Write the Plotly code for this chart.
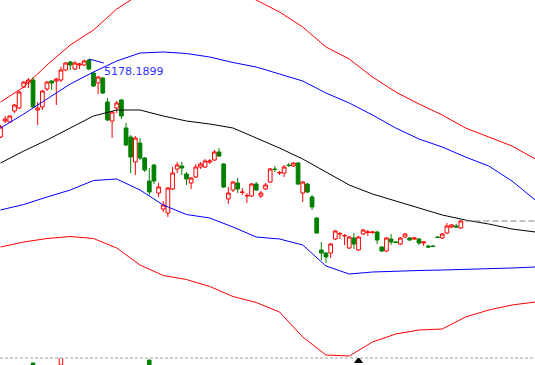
import plotly.graph_objects as go

# ---- candle data (index, OHLC) ----
open_ = [4288.2, 4470.8, 4459.4, 4584.9, 4619.1, 4858.7, 4904.4, 4938.6, 4596.3, 4630.5,
         4835.9, 4927.2, 4927.2, 4938.6, 5052.7, 5144.0, 5064.1, 5109.7, 5109.7, 5166.8,
         5018.5, 4904.4, 4961.4, 4687.6, 4470.8, 4619.1, 4710.4, 4390.9, 4288.2, 4003.0,
         4219.8, 4048.6, 3786.2, 3968.7, 3649.3, 3466.7, 3421.1, 3694.9, 3923.1, 3957.3,
         3866.1, 3763.4, 3831.8, 3945.9, 3945.9, 4003.0, 4025.8, 4117.1, 3980.2, 3580.8,
         3683.5, 3763.4, 3655.0, 3615.0, 3615.0, 3752.0, 3615.0, 3694.9, 3774.8, 3923.1,
         3877.5, 3877.5, 3968.7, 3957.3, 3991.6, 3649.3, 3752.0, 3603.6, 3364.0, 2998.9,
         2964.7, 2964.7, 3124.4, 3181.5, 3158.6, 3021.7, 3135.8, 2998.9, 3181.5, 3198.6,
         3198.6, 3204.3, 3033.1, 2987.5, 3124.4, 3090.2, 3067.4, 3147.2, 3135.8, 3124.4,
         3124.4, 3078.8, 3044.5, 3044.5, 3147.2, 3135.8, 3192.9, 3261.3, 3272.7, 3249.9]
close = [4402.3, 4493.6, 4527.8, 4653.3, 4801.7, 4915.8, 4938.6, 4630.5, 4619.1, 4813.1,
         4915.8, 4904.4, 4950.0, 5052.7, 5132.6, 5109.7, 5132.6, 5121.2, 5155.4, 5064.1,
         4870.1, 4972.8, 4790.3, 4482.2, 4573.5, 4676.2, 4527.8, 4196.9, 4060.0, 4276.8,
         4048.6, 3911.7, 3660.7, 3786.2, 3717.7, 3512.3, 3706.3, 3877.5, 3968.7, 3934.5,
         3809.0, 3820.4, 3945.9, 3980.2, 4014.4, 4014.4, 4117.1, 4071.4, 3717.7, 3649.3,
         3774.8, 3694.9, 3660.7, 3620.7, 3752.0, 3683.5, 3649.3, 3740.5, 3923.1, 3917.4,
         3883.2, 3945.9, 3963.0, 3991.6, 3752.0, 3774.8, 3660.7, 3489.5, 3192.9, 2964.7,
         2919.0, 3067.4, 3215.7, 3187.2, 3164.3, 3147.2, 3067.4, 3147.2, 3227.1, 3204.3,
         3204.3, 3113.0, 2987.5, 3135.8, 3090.2, 3084.5, 3135.8, 3181.5, 3113.0, 3135.8,
         3078.8, 3090.2, 3033.1, 3038.8, 3141.5, 3181.5, 3272.7, 3284.1, 3261.3, 3329.8]
high = [4425.1, 4527.8, 4539.2, 4664.8, 4813.1, 4927.2, 4961.4, 4972.8, 4687.6, 4824.5,
        4927.2, 4938.6, 4961.4, 5086.9, 5144.0, 5155.4, 5155.4, 5132.6, 5172.5, 5178.19,
        5029.9, 4984.2, 4972.8, 4733.2, 4584.9, 4699.0, 4721.8, 4448.0, 4311.0, 4299.6,
        4276.8, 4060.0, 3934.5, 3980.2, 3763.4, 3558.0, 3717.7, 3945.9, 4003.0, 4003.0,
        3888.9, 3831.8, 3980.2, 4003.0, 4037.2, 4037.2, 4139.9, 4162.7, 3991.6, 3717.7,
        3786.2, 3820.4, 3706.3, 3649.3, 3763.4, 3774.8, 3672.1, 3763.4, 3934.5, 3957.3,
        3900.3, 3968.7, 3991.6, 4003.0, 4003.0, 3786.2, 3763.4, 3626.4, 3375.4, 3090.2,
        2976.1, 3078.8, 3227.1, 3204.3, 3181.5, 3158.6, 3192.9, 3158.6, 3238.5, 3227.1,
        3215.7, 3215.7, 3044.5, 3147.2, 3181.5, 3101.6, 3147.2, 3192.9, 3147.2, 3147.2,
        3135.8, 3101.6, 3055.9, 3055.9, 3158.6, 3192.9, 3307.0, 3295.6, 3295.6, 3341.2]
low = [4276.8, 4448.0, 4448.0, 4562.1, 4607.7, 4847.3, 4847.3, 4619.1, 4425.1, 4596.3,
       4813.1, 4824.5, 4653.3, 4915.8, 5041.3, 5052.7, 5052.7, 5064.1, 5098.3, 5052.7,
       4858.7, 4778.9, 4778.9, 4470.8, 4276.8, 4562.1, 4493.6, 4185.5, 3877.5, 3854.6,
       4025.8, 3888.9, 3626.4, 3752.0, 3603.6, 3432.5, 3375.4, 3683.5, 3877.5, 3854.6,
       3740.5, 3694.9, 3820.4, 3923.1, 3934.5, 3980.2, 4014.4, 4060.0, 3706.3, 3523.8,
       3660.7, 3649.3, 3626.4, 3535.2, 3603.6, 3672.1, 3592.2, 3683.5, 3763.4, 3888.9,
       3854.6, 3831.8, 3945.9, 3945.9, 3740.5, 3546.6, 3649.3, 3455.3, 3181.5, 2884.8,
       2850.71, 2907.6, 3113.0, 3124.4, 3055.9, 3010.3, 3010.3, 2987.5, 3170.0, 3158.6,
       3181.5, 3067.4, 2976.1, 2976.1, 3055.9, 3078.8, 3055.9, 3135.8, 3101.6, 3113.0,
       3055.9, 3044.5, 3021.7, 3033.1, 3135.8, 3124.4, 3181.5, 3249.9, 3249.9, 3238.5]
idx = list(range(len(open_)))

# ---- band lines (sampled every 5 bars, extending past last bar) ----
band_idx = list(range(0, 116, 5))
mid_line = [3991.6, 4128.5, 4254.0, 4390.9, 4527.8, 4596.3, 4596.3, 4527.8, 4470.8, 4436.6,
            4390.9, 4276.8, 4162.7, 4037.2, 3888.9, 3740.5, 3637.9, 3558.0, 3478.1, 3398.2,
            3341.2, 3295.6, 3238.5, 3204.3]
upper1 = [4390.9, 4550.7, 4721.8, 4893.0, 5029.9, 5155.4, 5246.7, 5258.1, 5241.0, 5201.0,
          5138.3, 5086.9, 5007.1, 4927.2, 4790.3, 4676.2, 4539.2, 4390.9, 4265.4, 4174.1,
          4060.0, 3957.3, 3786.2, 3569.4]
lower1 = [3455.3, 3518.1, 3603.6, 3683.5, 3791.9, 3809.0, 3683.5, 3512.3, 3404.0, 3364.0,
          3261.3, 3147.2, 3124.4, 3055.9, 2816.3, 2725.1, 2747.9, 2759.3, 2765.0, 2770.7,
          2776.4, 2782.1, 2793.5, 2804.9]
upper2 = [4687.6, 4858.7, 5109.7, 5337.9, 5509.1, 5748.7, 5919.9, 6034.0, 6079.6, 6056.8,
          5965.5, 5851.4, 5714.5, 5543.3, 5315.1, 5178.2, 4972.8, 4801.7, 4664.8, 4539.2,
          4390.9, 4288.2, 4185.5, 4037.2]
lower2 = [3033.1, 3090.2, 3130.1, 3152.9, 3130.1, 3021.7, 2827.7, 2707.9, 2662.3, 2582.5,
          2468.3, 2399.9, 2291.5, 2006.2, 1800.8, 1789.4, 1949.2, 2040.5, 2086.1, 2097.5,
          2234.4, 2314.3, 2371.3, 2405.6]

# ---- volume tops that peek into the lower panel ----
vol_idx = [7, 13, 32]
vol_val = [2.0, 7.5, 5.0]

peak_idx = 19
peak_label = "5178.1899"
marker_idx = 77

RED = "#ff0000"
GREEN = "#008000"
BLUE = "#0000ff"

fig = go.Figure()

for ys, col in [(upper2, RED), (lower2, RED), (upper1, BLUE), (lower1, BLUE), (mid_line, "#000000")]:
    fig.add_trace(go.Scatter(x=band_idx, y=ys, mode="lines",
                             line=dict(color=col, width=1), hoverinfo="skip"))

fig.add_trace(go.Candlestick(
    x=idx, open=open_, high=high, low=low, close=close,
    increasing=dict(line=dict(color=RED, width=1), fillcolor="#ffffff"),
    decreasing=dict(line=dict(color=GREEN, width=1), fillcolor=GREEN),
    whiskerwidth=0,
))

vcols = [RED if close[i] > open_[i] else GREEN for i in vol_idx]
vfill = ["#ffffff" if close[i] > open_[i] else GREEN for i in vol_idx]
fig.add_trace(go.Bar(x=vol_idx, y=vol_val, yaxis="y2", width=0.75,
                     marker=dict(color=vfill, line=dict(color=vcols, width=1))))
fig.add_trace(go.Scatter(x=[marker_idx], y=[4], yaxis="y2", mode="markers",
                         marker=dict(symbol="triangle-up", size=8, color="#000000")))

x_lo, x_hi = -0.1075, 114.95
fig.update_layout(
    width=535, height=365, margin=dict(l=0, r=0, t=0, b=0),
    paper_bgcolor="#ffffff", plot_bgcolor="#ffffff", showlegend=False,
    boxgap=0.2, boxgroupgap=0,
    xaxis=dict(range=[x_lo, x_hi], visible=False, rangeslider=dict(visible=False)),
    yaxis=dict(range=[1686.75, 5851.4], visible=False, domain=[0, 1]),
    yaxis2=dict(range=[0, 7], visible=False, domain=[0, 7 / 365], anchor="x"),
    annotations=[dict(x=peak_idx, y=high[peak_idx], xref="x", yref="y",
                      text=peak_label, showarrow=True, arrowhead=0, arrowwidth=1,
                      arrowcolor=BLUE, ax=45, ay=12, standoff=0,
                      font=dict(family="DejaVu Sans", size=11, color="#3030ff"))],
    shapes=[
        dict(type="line", xref="paper", yref="paper", x0=0, x1=1, y0=7 / 365, y1=7 / 365,
             line=dict(color="#a0a0a0", width=1, dash="3px,2px")),
        dict(type="line", xref="x", yref="y", x0=idx[-1] + 1, x1=x_hi,
             y0=close[-1], y1=close[-1],
             line=dict(color="#808080", width=1, dash="6px,3px")),
    ],
)

fig.write_html("out.html", config={"displayModeBar": False},
               post_script="document.body.style.margin='0';document.body.style.overflow='hidden';")
